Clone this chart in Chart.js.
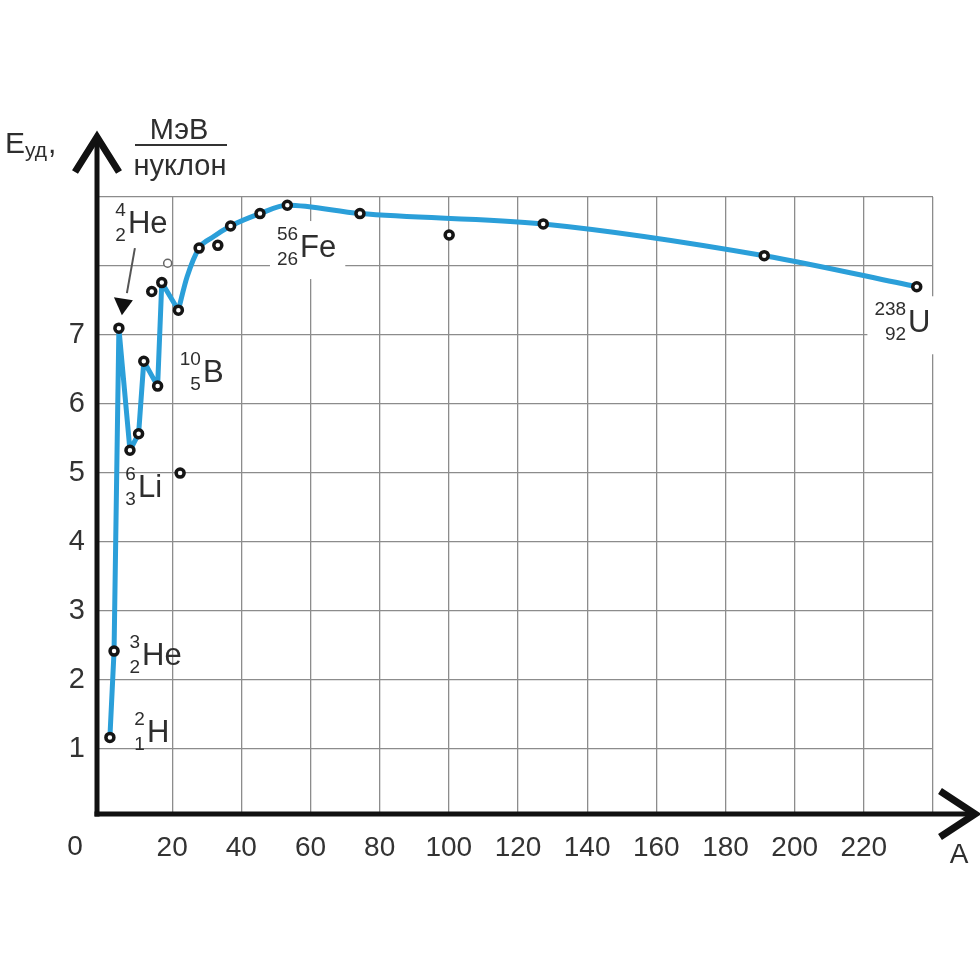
<!DOCTYPE html>
<html>
<head>
<meta charset="utf-8">
<script src="https://cdn.jsdelivr.net/npm/chart.js@4"></script>
<style>
html,body{margin:0;padding:0;background:#fff;}
#c{display:block;}
</style>
</head>
<body>
<canvas id="c" width="980" height="980"></canvas>
<script>
// ---- data (mass number A, binding energy per nucleon E, MeV) ----
const jaggedA = [2, 3.2, 4.6, 7.8, 10.3, 11.8, 15.8, 17.0, 21.8];
const jaggedE = [1.17, 2.42, 7.10, 5.33, 5.57, 6.62, 6.26, 7.76, 7.36];
const smoothA = [21.8, 24.3, 27.8, 31.8, 36.9, 45.4, 53.3, 74.3, 127.3, 191.2, 235.3];
const smoothE = [7.36, 7.84, 8.26, 8.42, 8.58, 8.76, 8.88, 8.76, 8.61, 8.15, 7.70];
const pointA = [2, 3.2, 4.6, 7.8, 10.3, 11.8, 15.8, 14.1, 17.0, 21.8, 22.3, 27.8, 33.2, 36.9, 45.4, 53.3, 74.3, 100.1, 127.3, 191.2, 235.3];
const pointE = [1.17, 2.42, 7.10, 5.33, 5.57, 6.62, 6.26, 7.63, 7.76, 7.36, 5.00, 8.26, 8.30, 8.58, 8.76, 8.88, 8.76, 8.45, 8.61, 8.15, 7.70];
const openA = [18.7];
const openE = [8.04];
const xTicks = [20, 40, 60, 80, 100, 120, 140, 160, 180, 200, 220, 240];
const yTicks = [1, 2, 3, 4, 5, 6, 7, 8, 9];
// isotope labels: [mass, charge, symbol, anchor A, anchor E, whiteBox]
const isoLabels = [
  ['2', '1', 'H', 12.7, 1.10, false],
  ['3', '2', 'He', 11.3, 2.22, false],
  ['4', '2', 'He', 7.2, 8.48, false],
  ['6', '3', 'Li', 10.1, 4.65, false],
  ['10', '5', 'B', 28.9, 6.32, false],
  ['56', '26', 'Fe', 57.0, 8.13, true],
  ['238', '92', 'U', 232.8, 7.04, true]
];

const FONT = "'Liberation Sans', Arial, sans-serif";
const TXT = '#2e2e2e';
const toXY = (xs, ys) => xs.map((x, i) => ({x: x, y: ys[i]}));

const decor = {
  id: 'decor',
  beforeDatasetsDraw(chart) {
    const ctx = chart.ctx, sx = chart.scales.x, sy = chart.scales.y;
    ctx.save();
    isoLabels.forEach(l => {
      const x = sx.getPixelForValue(l[3]);
      const y = sy.getPixelForValue(l[4]);
      ctx.font = '31px ' + FONT;
      const symW = ctx.measureText(l[2]).width;
      ctx.font = '19px ' + FONT;
      const numW = Math.max(ctx.measureText(l[0]).width, ctx.measureText(l[1]).width);
      if (l[5]) {
        ctx.fillStyle = '#fff';
        ctx.fillRect(x - 3 - numW - 6, y - 36, numW + symW + 18, 58);
      }
      ctx.fillStyle = TXT;
      ctx.textAlign = 'right';
      ctx.textBaseline = 'alphabetic';
      ctx.fillText(l[0], x - 2, y - 17);
      ctx.fillText(l[1], x - 2, y + 8);
      ctx.font = '31px ' + FONT;
      ctx.textAlign = 'left';
      ctx.fillText(l[2], x, y);
    });
    // arrow to 4He
    const px = sx.getPixelForValue(pointA[2]);
    const py = sy.getPixelForValue(pointE[2]);
    ctx.strokeStyle = '#555';
    ctx.lineWidth = 2;
    ctx.beginPath();
    ctx.moveTo(px + 16, py - 80);
    ctx.lineTo(px + 8, py - 35);
    ctx.stroke();
    ctx.fillStyle = '#111';
    ctx.beginPath();
    ctx.moveTo(px + 3, py - 13);
    ctx.lineTo(px - 5, py - 31);
    ctx.lineTo(px + 14, py - 28);
    ctx.closePath();
    ctx.fill();
    ctx.restore();
  },
  afterDraw(chart) {
    const ctx = chart.ctx, a = chart.chartArea;
    ctx.save();
    ctx.strokeStyle = '#111';
    ctx.lineCap = 'butt';
    // y axis
    ctx.lineWidth = 5;
    ctx.beginPath();
    ctx.moveTo(a.left, a.bottom + 2.5);
    ctx.lineTo(a.left, 139);
    ctx.stroke();
    // x axis
    ctx.beginPath();
    ctx.moveTo(a.left - 2.5, a.bottom);
    ctx.lineTo(973, a.bottom);
    ctx.stroke();
    // arrow heads
    ctx.lineWidth = 7;
    ctx.lineJoin = 'miter';
    ctx.beginPath();
    ctx.moveTo(a.left - 22, 172);
    ctx.lineTo(a.left, 137);
    ctx.lineTo(a.left + 22, 172);
    ctx.stroke();
    ctx.beginPath();
    ctx.moveTo(940, a.bottom - 23);
    ctx.lineTo(975, a.bottom);
    ctx.lineTo(940, a.bottom + 23);
    ctx.stroke();
    // texts
    ctx.fillStyle = TXT;
    ctx.textBaseline = 'alphabetic';
    ctx.textAlign = 'left';
    ctx.font = '30px ' + FONT;
    ctx.fillText('E', 5, 153);
    ctx.font = '21px ' + FONT;
    ctx.fillText('уд', 25, 157);
    ctx.font = '30px ' + FONT;
    ctx.fillText(',', 48, 153);
    ctx.textAlign = 'center';
    ctx.font = '29px ' + FONT;
    ctx.fillText('МэВ', 179, 139);
    ctx.fillText('нуклон', 180, 175);
    ctx.fillStyle = '#333';
    ctx.fillRect(135, 144, 92, 2);
    ctx.fillStyle = TXT;
    ctx.textBaseline = 'middle';
    ctx.font = '28px ' + FONT;
    ctx.fillText('0', 75, 847);
    ctx.fillText('A', 959, 855);
    ctx.restore();
  }
};

new Chart(document.getElementById('c'), {
  type: 'scatter',
  data: {
    datasets: [
      {
        data: toXY(pointA, pointE), showLine: false, order: 0,
        pointRadius: 4, pointBorderWidth: 3.5, pointBorderColor: '#151515',
        pointBackgroundColor: '#ffffff'
      },
      {
        data: toXY(openA, openE), showLine: false, order: 1,
        pointRadius: 4, pointBorderWidth: 1.5, pointBorderColor: '#666',
        pointBackgroundColor: '#ffffff'
      },
      {
        data: toXY(jaggedA, jaggedE), showLine: true, order: 2, tension: 0,
        borderColor: '#2b9fd9', borderWidth: 5, pointRadius: 0,
        borderJoinStyle: 'round', borderCapStyle: 'round'
      },
      {
        data: toXY(smoothA, smoothE), showLine: true, order: 3,
        cubicInterpolationMode: 'monotone',
        borderColor: '#2b9fd9', borderWidth: 5, pointRadius: 0,
        borderJoinStyle: 'round', borderCapStyle: 'round'
      }
    ]
  },
  options: {
    responsive: false,
    animation: false,
    layout: {padding: {top: 197, right: 47, left: 0, bottom: 0}},
    plugins: {legend: {display: false}, tooltip: {enabled: false}},
    scales: {
      x: {
        type: 'linear', min: -1.73, max: 240,
        afterBuildTicks: s => { s.ticks = xTicks.map(v => ({value: v})); },
        afterFit: s => { s.height = 166; },
        grid: {color: '#8c8c8c', lineWidth: 1.3, drawTicks: false},
        border: {display: false},
        ticks: {
          callback: v => (v === 240 ? '' : String(v)),
          font: {family: FONT, size: 28}, color: '#333', padding: 17,
          maxRotation: 0, autoSkip: false
        }
      },
      y: {
        type: 'linear', min: 0.06, max: 9,
        afterBuildTicks: s => { s.ticks = yTicks.map(v => ({value: v})); },
        afterFit: s => { s.width = 97; },
        grid: {color: '#8c8c8c', lineWidth: 1.3, drawTicks: false},
        border: {display: false},
        ticks: {
          callback: v => (v > 7 ? '' : String(v)),
          font: {family: FONT, size: 29}, color: '#333', padding: 12,
          autoSkip: false
        }
      }
    }
  },
  plugins: [decor]
});
</script>
</body>
</html>
